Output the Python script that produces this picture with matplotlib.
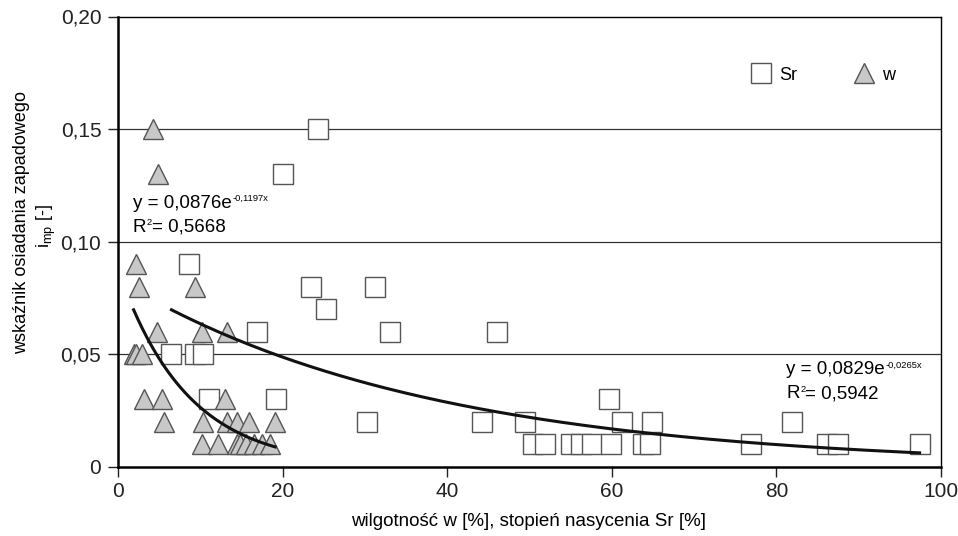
import numpy as np
import matplotlib
matplotlib.use("Agg")
import matplotlib.pyplot as plt
from matplotlib.ticker import FuncFormatter

plt.rcParams["font.family"] = ["Liberation Sans", "DejaVu Sans"]
plt.rcParams["mathtext.fontset"] = "custom"
plt.rcParams["mathtext.rm"] = "Liberation Sans"
plt.rcParams["mathtext.it"] = "Liberation Sans"

# Sr - degree of saturation [%] vs i_mp
sr_x = [24.3, 20.1, 8.6, 23.5, 31.2, 25.3, 16.9, 33.1, 46.1, 6.5, 9.4, 10.3,
        11.1, 19.2, 59.7, 30.3, 44.2, 49.5, 61.2, 64.9, 81.9,
        50.4, 51.9, 55.0, 56.3, 57.6, 59.9, 63.8, 64.6, 76.9, 86.2, 87.5, 97.4]
sr_y = [0.15, 0.13, 0.09, 0.08, 0.08, 0.07, 0.06, 0.06, 0.06, 0.05, 0.05, 0.05,
        0.03, 0.03, 0.03, 0.02, 0.02, 0.02, 0.02, 0.02, 0.02,
        0.01, 0.01, 0.01, 0.01, 0.01, 0.01, 0.01, 0.01, 0.01, 0.01, 0.01, 0.01]

# w - moisture content [%] vs i_mp
w_x = [4.3, 4.9, 2.2, 2.5, 9.3, 4.7, 10.2, 13.3, 1.9, 2.2, 2.9, 3.1, 5.3, 13.0,
       5.6, 10.3, 13.2, 14.4, 15.9, 19.1,
       10.2, 12.2, 14.4, 14.8, 15.5, 16.5, 17.5, 18.5]
w_y = [0.15, 0.13, 0.09, 0.08, 0.08, 0.06, 0.06, 0.06, 0.05, 0.05, 0.05, 0.03, 0.03, 0.03,
       0.02, 0.02, 0.02, 0.02, 0.02, 0.02,
       0.01, 0.01, 0.01, 0.01, 0.01, 0.01, 0.01, 0.01]

# exponential trendlines y = a*exp(b*x)
w_a, w_b = 0.0876, -0.1197
sr_a, sr_b = 0.0829, -0.0265
w_r2, sr_r2 = 0.5668, 0.5942


def fmt(v, n=4):
    return f"{v:.{n}f}".replace(".", ",")


def trend_label(ax, x, y, a, b, r2, fs=13.5):
    # excel style label: y = a e^(bx) / R^2 = ...
    t = ax.text(x, y, f"y = {fmt(a)}e", fontsize=fs, va="center")
    ax.annotate(f"{fmt(b)}x", xy=(1, 1), xycoords=t, xytext=(0.5, 0.5),
                textcoords="offset points", fontsize=fs * 0.5, ha="left", va="top")
    dy = 0.0107
    r = ax.text(x, y - dy, "R", fontsize=fs, va="center")
    s = ax.annotate("2", xy=(1, 1), xycoords=r, xytext=(0.3, 0.5),
                    textcoords="offset points", fontsize=fs * 0.5, ha="left", va="top")
    ax.annotate(f"= {fmt(r2)}", xy=(1, 0), xycoords=(s, r), fontsize=fs,
                ha="left", va="bottom")


fig = plt.figure(figsize=(9.58, 5.36), dpi=100)
ax = fig.add_axes([118 / 958, 1 - 467 / 536, (941 - 118) / 958, (467 - 16.5) / 536])

for y in [0.05, 0.10, 0.15]:
    ax.axhline(y, color="#333333", lw=0.9, zorder=1)

ax.plot(sr_x, sr_y, ls="none", marker="s", ms=14.5, mfc="white", mec="#555555",
        mew=1.0, label="Sr", zorder=2)
ax.plot(w_x, w_y, ls="none", marker="^", ms=15, mfc="#c8c8c8", mec="#555555",
        mew=1.0, label="w", zorder=3)

xs = np.linspace(min(w_x), max(w_x), 200)
ax.plot(xs, w_a * np.exp(w_b * xs), color="#111111", lw=2.2, zorder=4)
xs = np.linspace(min(sr_x), max(sr_x), 200)
ax.plot(xs, sr_a * np.exp(sr_b * xs), color="#111111", lw=2.2, zorder=4)

trend_label(ax, 1.8, 0.1172, w_a, w_b, w_r2)
trend_label(ax, 81.2, 0.0432, sr_a, sr_b, sr_r2)

ax.set_xlim(0, 100)
ax.set_ylim(0, 0.20)
ax.set_xticks([0, 20, 40, 60, 80, 100])
ax.set_yticks([0, 0.05, 0.10, 0.15, 0.20])
ax.yaxis.set_major_formatter(FuncFormatter(
    lambda v, p: "0" if abs(v) < 1e-9 else fmt(v, 2)))
ax.tick_params(direction="out", length=7, width=1, labelsize=15, colors="#222222")
ax.tick_params(axis="x", pad=4)
ax.tick_params(axis="y", pad=5)

for s in ["left", "bottom"]:
    ax.spines[s].set_linewidth(1.8)
for s in ["top", "right"]:
    ax.spines[s].set_linewidth(1.0)

ax.legend(loc="center left", bbox_to_anchor=((750 - 118) / 823, (467 - 75) / 450.5),
          ncol=2, frameon=False, fontsize=13, borderpad=0, borderaxespad=0,
          handletextpad=0.4, columnspacing=3.1, handlelength=1.2)

fig.text(529 / 958, 1 - 522 / 536, "wilgotność w [%], stopień nasycenia Sr [%]",
         ha="center", va="center", fontsize=13.5)
fig.text(22 / 958, 1 - 222 / 536, "wskaźnik osiadania zapadowego", rotation=90,
         ha="center", va="center", fontsize=13)
fig.text(46 / 958, 1 - 226 / 536, "i$_{\\mathrm{mp}}$ [-]", rotation=90,
         ha="center", va="center", fontsize=13)

fig.savefig("out.png", dpi=100)
